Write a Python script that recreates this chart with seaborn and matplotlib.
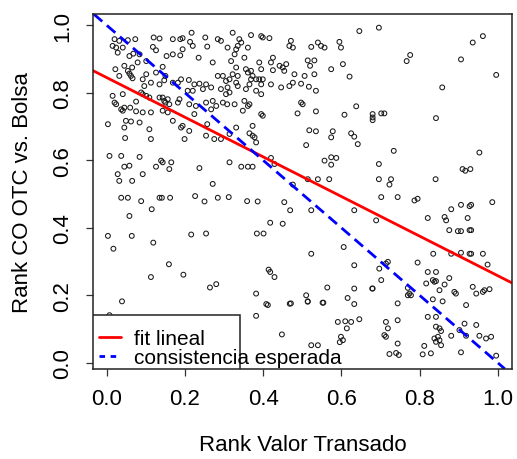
import numpy as np
import pandas as pd
import matplotlib
matplotlib.use("Agg")
import matplotlib.pyplot as plt
import seaborn as sns
from matplotlib.lines import Line2D
from matplotlib.patches import Rectangle

# ---- data (x = Rank Valor Transado, y = Rank CO OTC vs. Bolsa)
rank_valor = [
    0.020, 0.032, 0.054, 0.073, 0.120, 0.135, 0.169, 0.188, 0.194, 0.217, 0.213, 0.252, 0.284, 0.292, 0.309,
    0.015, 0.024, 0.041, 0.118, 0.153, 0.169, 0.188, 0.194, 0.220, 0.257, 0.271, 0.318,
    0.028, 0.058, 0.068, 0.084, 0.126, 0.143, 0.235,
    0.045, 0.065, 0.079, 0.101, 0.101, 0.126, 0.150, 0.190, 0.210, 0.224, 0.237, 0.254, 0.284, 0.297, 0.305, 0.314, 0.292, 0.309,
    0.022, 0.032, 0.054, 0.058, 0.062, 0.066, 0.092, 0.096, 0.113, 0.135, 0.147, 0.169, 0.182, 0.207, 0.220, 0.246, 0.267, 0.305, 0.314,
    0.015, 0.041, 0.075, 0.088, 0.092, 0.101, 0.109, 0.135, 0.143, 0.147, 0.150, 0.156, 0.160, 0.182, 0.186, 0.211, 0.228, 0.254, 0.271, 0.297, 0.308,
    0.020, 0.024, 0.037, 0.041, 0.045, 0.060, 0.075, 0.092, 0.113, 0.143, 0.156, 0.224, 0.267, 0.280,
    0.003, 0.049, 0.062, 0.084, 0.109, 0.169, 0.190, 0.194, 0.211, 0.257,
    0.045, 0.113, 0.047, 0.199, 0.254, 0.275, 0.292, 0.314,
    0.007, 0.037, 0.084, 0.139, 0.143, 0.165, 0.126, 0.160, 0.237, 0.314,
    0.045, 0.058, 0.028, 0.092, 0.032, 0.065, 0.271,
    0.322, 0.339, 0.344, 0.335, 0.331, 0.361, 0.369, 0.395, 0.399, 0.416, 0.471, 0.476, 0.467, 0.523, 0.540, 0.548, 0.557, 0.595, 0.599, 0.646,
    0.352, 0.327, 0.331, 0.322, 0.335, 0.356, 0.361, 0.369, 0.373, 0.390, 0.395, 0.420, 0.425, 0.425, 0.442, 0.450, 0.459, 0.454, 0.514, 0.520, 0.531, 0.531, 0.574, 0.604, 0.621,
    0.331, 0.335, 0.356, 0.365, 0.369, 0.382, 0.390, 0.399, 0.395, 0.382, 0.395, 0.420, 0.446, 0.467, 0.476, 0.497, 0.506, 0.480, 0.517, 0.535,
    0.327, 0.352, 0.361, 0.365, 0.348, 0.395, 0.399, 0.497, 0.501, 0.488, 0.535, 0.608, 0.638, 0.680,
    0.331, 0.373, 0.365, 0.373, 0.378, 0.382, 0.518, 0.535, 0.578, 0.574, 0.625, 0.633, 0.642, 0.510,
    0.344, 0.361, 0.373, 0.420, 0.429, 0.557, 0.574, 0.587, 0.574, 0.514, 0.540, 0.569, 0.476,
    0.696, 0.962, 0.936, 0.776, 0.767, 0.906, 0.996, 0.858, 0.680, 0.680, 0.702, 0.710, 0.842, 0.734, 0.953,
    0.696, 0.910, 0.917, 0.930, 0.696, 0.727, 0.723, 0.841,
    0.037, 0.054, 0.088, 0.135, 0.141, 0.162, 0.226, 0.250, 0.284, 0.312, 0.058, 0.115, 0.003, 0.064, 0.119,
    0.216, 0.254, 0.017, 0.159, 0.196, 0.113, 0.264, 0.280, 0.039, 0.007,
    0.359, 0.386, 0.454, 0.469, 0.523, 0.633, 0.418, 0.450, 0.384, 0.401, 0.606, 0.523, 0.633, 0.414, 0.418,
    0.429, 0.564, 0.382, 0.510, 0.514, 0.471, 0.408, 0.412, 0.554, 0.616, 0.633, 0.633, 0.679, 0.382, 0.591,
    0.610, 0.625, 0.646, 0.614, 0.448, 0.599, 0.604, 0.523, 0.540, 0.468, 0.514, 0.552, 0.596,
    0.702, 0.744, 0.787, 0.795, 0.906, 0.932, 0.928, 0.986, 0.881, 0.689, 0.821, 0.864, 0.868, 0.923, 0.876,
    0.898, 0.906, 0.928, 0.932, 0.835, 0.881, 0.906, 0.928, 0.932, 0.962, 0.974, 0.719, 0.714, 0.697, 0.795,
    0.821, 0.842, 0.834, 0.838, 0.842, 0.876, 0.817, 0.864, 0.702, 0.680, 0.770, 0.774, 0.778, 0.770, 0.851,
    0.889, 0.893, 0.936, 0.945, 0.966, 0.979, 0.962, 0.834, 0.859, 0.744, 0.919, 0.714, 0.744, 0.719, 0.710,
    0.714, 0.821, 0.842, 0.842, 0.851, 0.855, 0.838, 0.847, 0.851, 0.842, 0.855, 0.881, 0.902, 0.915, 0.945,
    0.953, 0.970, 0.983, 0.919, 0.744, 0.812, 0.723, 0.740, 0.747, 0.808, 0.829, 0.906, 0.996,
]
rank_co_otc = [
    0.959, 0.954, 0.956, 0.959, 0.964, 0.961, 0.959, 0.959, 0.962, 0.978, 0.951, 0.964, 0.959, 0.954, 0.934,
    0.939, 0.934, 0.934, 0.936, 0.909, 0.914, 0.911, 0.929, 0.939, 0.937, 0.890, 0.894,
    0.919, 0.909, 0.916, 0.914, 0.926, 0.877, 0.904,
    0.880, 0.875, 0.890, 0.894, 0.855, 0.860, 0.850, 0.840, 0.838, 0.825, 0.827, 0.825, 0.850, 0.850, 0.835, 0.840, 0.811, 0.816,
    0.870, 0.850, 0.865, 0.857, 0.850, 0.843, 0.840, 0.820, 0.830, 0.825, 0.837, 0.830, 0.830, 0.806, 0.806, 0.811, 0.816, 0.796, 0.801,
    0.791, 0.796, 0.774, 0.801, 0.796, 0.791, 0.786, 0.786, 0.786, 0.776, 0.771, 0.781, 0.766, 0.771, 0.781, 0.766, 0.761, 0.771, 0.776, 0.771, 0.766,
    0.771, 0.766, 0.751, 0.747, 0.756, 0.756, 0.745, 0.742, 0.742, 0.747, 0.742, 0.737, 0.751, 0.761,
    0.707, 0.717, 0.715, 0.712, 0.692, 0.717, 0.697, 0.702, 0.687, 0.707,
    0.697, 0.663, 0.666, 0.663, 0.673, 0.663, 0.663, 0.678,
    0.613, 0.613, 0.610, 0.599, 0.594, 0.594, 0.581, 0.574, 0.577, 0.594,
    0.581, 0.584, 0.559, 0.559, 0.539, 0.539, 0.530,
    0.978, 0.959, 0.949, 0.939, 0.929, 0.934, 0.971, 0.968, 0.964, 0.962, 0.954, 0.934, 0.939, 0.936, 0.949, 0.939, 0.934, 0.951, 0.934, 0.983,
    0.904, 0.914, 0.875, 0.855, 0.850, 0.870, 0.860, 0.865, 0.850, 0.890, 0.870, 0.890, 0.904, 0.867, 0.880, 0.875, 0.885, 0.865, 0.896, 0.880, 0.896, 0.855, 0.870, 0.885, 0.848,
    0.830, 0.820, 0.811, 0.825, 0.840, 0.840, 0.840, 0.840, 0.825, 0.806, 0.796, 0.825, 0.816, 0.820, 0.830, 0.827, 0.850, 0.855, 0.818, 0.806,
    0.766, 0.776, 0.761, 0.766, 0.747, 0.737, 0.732, 0.771, 0.766, 0.739, 0.745, 0.735, 0.760, 0.727,
    0.697, 0.702, 0.680, 0.673, 0.668, 0.653, 0.689, 0.686, 0.686, 0.668, 0.680, 0.670, 0.648, 0.645,
    0.581, 0.581, 0.581, 0.607, 0.589, 0.599, 0.609, 0.607, 0.587, 0.544, 0.544, 0.544, 0.528,
    0.993, 0.968, 0.949, 0.912, 0.894, 0.899, 0.853, 0.816, 0.737, 0.719, 0.739, 0.739, 0.725, 0.628, 0.623,
    0.589, 0.574, 0.569, 0.574, 0.544, 0.544, 0.528, 0.544,
    0.489, 0.489, 0.479, 0.489, 0.489, 0.489, 0.494, 0.478, 0.489, 0.491, 0.435, 0.455, 0.376, 0.376, 0.356,
    0.380, 0.383, 0.338, 0.292, 0.261, 0.254, 0.223, 0.233, 0.182, 0.141,
    0.479, 0.478, 0.476, 0.452, 0.452, 0.452, 0.415, 0.412, 0.383, 0.383, 0.343, 0.323, 0.289, 0.276, 0.269,
    0.254, 0.223, 0.205, 0.200, 0.182, 0.176, 0.174, 0.171, 0.178, 0.192, 0.220, 0.174, 0.220, 0.139, 0.121,
    0.123, 0.121, 0.129, 0.102, 0.084, 0.077, 0.067, 0.052, 0.052, 0.175, 0.181, 0.178, 0.061,
    0.491, 0.491, 0.481, 0.486, 0.468, 0.468, 0.464, 0.476, 0.455, 0.422, 0.429, 0.432, 0.422, 0.429, 0.393,
    0.390, 0.390, 0.393, 0.393, 0.323, 0.323, 0.326, 0.323, 0.323, 0.323, 0.291, 0.299, 0.294, 0.279, 0.297,
    0.269, 0.269, 0.245, 0.240, 0.242, 0.251, 0.235, 0.232, 0.245, 0.220, 0.222, 0.205, 0.200, 0.200, 0.215,
    0.210, 0.205, 0.225, 0.205, 0.215, 0.218, 0.210, 0.188, 0.182, 0.176, 0.171, 0.121, 0.126, 0.102, 0.082,
    0.077, 0.136, 0.136, 0.107, 0.102, 0.094, 0.072, 0.077, 0.067, 0.062, 0.052, 0.080, 0.097, 0.116, 0.112,
    0.080, 0.072, 0.077, 0.080, 0.057, 0.050, 0.026, 0.029, 0.023, 0.025, 0.028, 0.031, 0.021,
]

fit_intercept = 0.845
fit_slope = -0.587
expected_intercept = 1.0
expected_slope = -1.0

x_ticks = [0.0, 0.2, 0.4, 0.6, 0.8, 1.0]
y_ticks = [0.0, 0.2, 0.4, 0.6, 0.8, 1.0]
x_label = "Rank Valor Transado"
y_label = "Rank CO OTC vs. Bolsa"
legend_labels = ["fit lineal", "consistencia esperada"]

n = min(len(rank_valor), len(rank_co_otc))
df = pd.DataFrame({"x": rank_valor[:n], "y": rank_co_otc[:n]})

sns.set_style("ticks")
plt.rcParams["font.family"] = ["Liberation Sans", "DejaVu Sans"]
plt.rcParams["text.color"] = "black"
plt.rcParams["axes.labelcolor"] = "black"
plt.rcParams["xtick.color"] = "black"
plt.rcParams["ytick.color"] = "black"

fig = plt.figure(figsize=(5.17, 4.60), dpi=100)
ax = fig.add_axes([0.180, 0.196, 0.810, 0.771])

sns.scatterplot(data=df, x="x", y="y", ax=ax, marker="o", s=12,
                facecolor="none", edgecolor="#1a1a1a", linewidth=0.75, legend=False)

ax.axline((0, fit_intercept), slope=fit_slope, color="#ff0000", lw=2.0)
ax.axline((0, expected_intercept), slope=expected_slope, color="#0000ff", lw=2.0,
          dashes=(4, 2.2))

ax.set_xlim(-0.035, 1.036)
ax.set_ylim(-0.018, 1.033)
ax.set_xticks(x_ticks)
ax.set_yticks(y_ticks)
ax.set_xticklabels([f"{v:.1f}" for v in x_ticks])
ax.set_yticklabels([f"{v:.1f}" for v in y_ticks], rotation=90, va="center")
ax.tick_params(axis="both", direction="out", length=5, width=0.9, labelsize=16,
               pad=9, color="#333333", labelcolor="black")
for s in ax.spines.values():
    s.set_visible(True)
    s.set_color("#222222")
    s.set_linewidth(1.1)

ax.set_xlabel(x_label, fontsize=16, labelpad=18)
ax.set_ylabel(y_label, fontsize=16, labelpad=14)

# legend (R style: box anchored to the lower-left corner)
box = Rectangle((0, 0), 0.351, 0.152, transform=ax.transAxes, facecolor="white",
                edgecolor="#222222", linewidth=1.1, zorder=5)
ax.add_patch(box)
handles = [Line2D([], [], color="#ff0000", lw=2.0),
           Line2D([], [], color="#0000ff", lw=2.0, dashes=(2, 2))]
leg = ax.legend(handles, legend_labels, loc="lower left", bbox_to_anchor=(0.0, -0.012),
                frameon=False, fontsize=15, handlelength=1.05, handletextpad=0.6,
                labelspacing=0.0, borderpad=0.3, borderaxespad=0.0)
for t in leg.get_texts():
    t.set_color("black")
leg.set_zorder(6)

fig.savefig("out.png", dpi=100)
